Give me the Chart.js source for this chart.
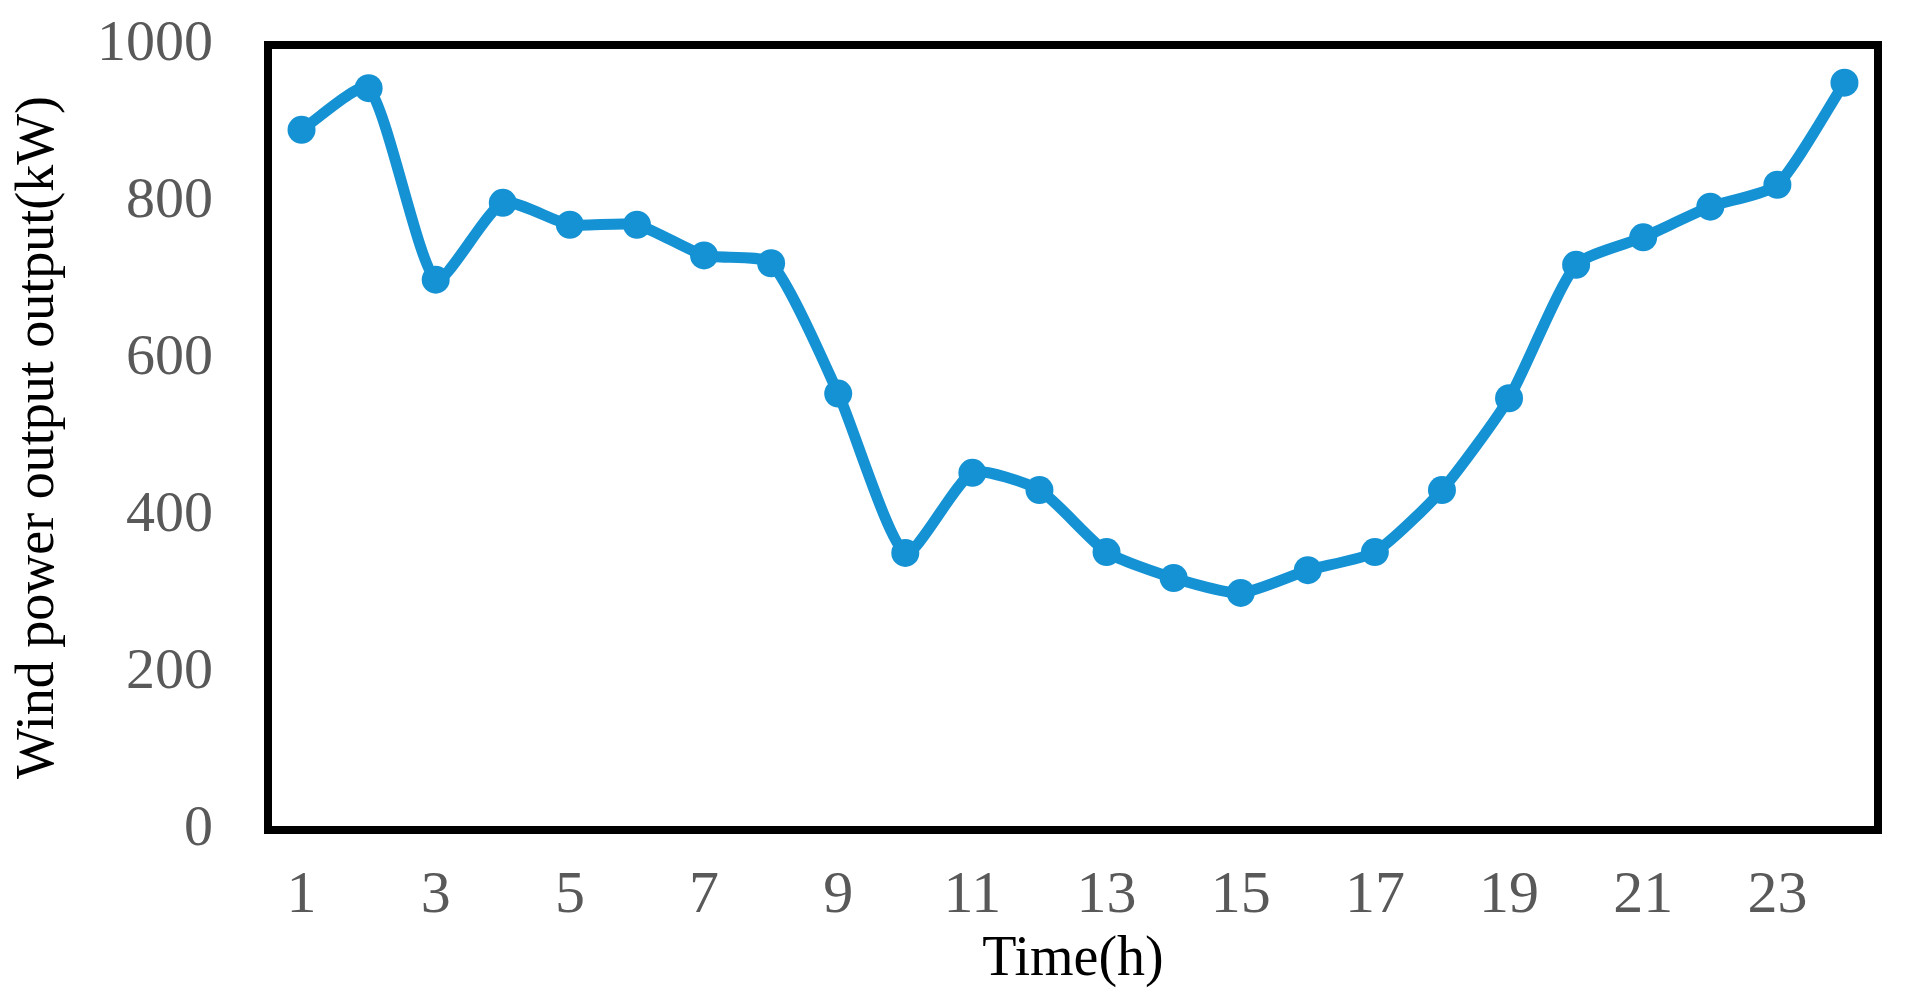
<!DOCTYPE html>
<html>
<head>
<meta charset="utf-8">
<script src="https://cdn.jsdelivr.net/npm/chart.js@4.4.1/dist/chart.umd.min.js"></script>
<style>
  html, body { margin: 0; padding: 0; background: #fff; }
  #wrap { width: 1906px; height: 999px; position: relative; }
</style>
</head>
<body>
<div id="wrap"><canvas id="windChart"></canvas></div>
<script>
// hours 1..24
const hours = ['1','2','3','4','5','6','7','8','9','10','11','12','13','14','15','16','17','18','19','20','21','22','23','24'];
// wind power output (kW)
const windOutput = [892, 945, 701, 799, 771, 771, 732, 722, 556, 353, 455, 433, 354, 321, 302, 331, 354, 433, 550, 720, 755, 794, 822, 952];
const yTicks = [0, 200, 400, 600, 800, 1000];

const serif = "'Liberation Serif', 'Times New Roman', serif";
const lineBlue = '#1592d4';

// black frame around the plot area
const frame = {
  id: 'frame',
  afterDraw(chart) {
    const { ctx, chartArea: a } = chart;
    ctx.save();
    ctx.strokeStyle = '#000';
    ctx.lineWidth = 8;
    ctx.strokeRect(a.left, a.top, a.right - a.left, a.bottom - a.top);
    ctx.restore();
  }
};

const ctx = document.getElementById('windChart').getContext('2d');

new Chart(ctx, {
  type: 'line',
  data: {
    labels: hours,
    datasets: [{
      label: 'Wind power output',
      data: windOutput,
      borderColor: lineBlue,
      backgroundColor: lineBlue,
      borderWidth: 11,
      tension: 0.2,
      pointRadius: 14,
      pointBorderWidth: 0,
      pointBackgroundColor: lineBlue,
      clip: false
    }]
  },
  options: {
    responsive: true,
    maintainAspectRatio: false,
    animation: false,
    layout: { padding: { top: 45, right: 28, left: 0, bottom: 0 } },
    plugins: {
      legend: { display: false },
      tooltip: { enabled: false }
    },
    scales: {
      x: {
        type: 'category',
        offset: true,
        grid: { display: false, drawTicks: false },
        border: { display: false },
        ticks: {
          autoSkip: false,
          maxRotation: 0,
          padding: 30,
          color: '#595959',
          font: { family: serif, size: 60 },
          callback: function(value, index) {
            return index % 2 === 0 ? hours[index] : '';
          }
        },
        title: {
          display: true,
          text: 'Time(h)',
          color: '#000',
          font: { family: serif, size: 56, lineHeight: 1 },
          padding: { top: 0, bottom: 11 }
        },
        afterFit: s => { s.height = 169; s.paddingLeft = 0; s.paddingRight = 0; }
      },
      y: {
        min: 0,
        max: 1000,
        grid: { display: false, drawTicks: false },
        border: { display: false },
        afterBuildTicks: s => { s.ticks = yTicks.map(v => ({ value: v })); },
        ticks: {
          padding: 55,
          color: '#595959',
          font: { family: serif, size: 58 },
          callback: v => String(v)
        },
        title: {
          display: true,
          text: 'Wind power output output(kW)',
          color: '#000',
          font: { family: serif, size: 54, lineHeight: 1 },
          padding: { top: 12, bottom: 0 }
        },
        afterFit: s => { s.width = 268; s.paddingTop = 0; s.paddingBottom = 0; }
      }
    }
  },
  plugins: [frame]
});
</script>
</body>
</html>
